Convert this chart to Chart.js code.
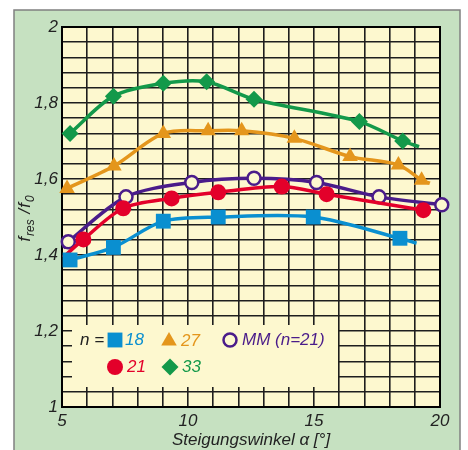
<!DOCTYPE html>
<html>
<head>
<meta charset="utf-8">
<script src="https://cdn.jsdelivr.net/npm/chart.js@4.4.1/dist/chart.umd.min.js"></script>
<style>
  html, body { margin: 0; padding: 0; background: #fff; }
</style>
</head>
<body>
<canvas id="grafico" width="468" height="450"></canvas>
<script>
// Messwerte: Steigungswinkel (Grad) -> f_res/f0
const winkel18 = [5.32, 7.04, 9.02, 11.2, 14.97, 18.41];
const wert18 = [1.387, 1.42, 1.489, 1.50, 1.50, 1.444];
const winkel21 = [5.85, 7.43, 9.35, 11.2, 13.72, 15.5, 19.34];
const wert21 = [1.441, 1.523, 1.549, 1.565, 1.58, 1.56, 1.518];
const winkel27 = [5.2, 7.06, 9.02, 10.8, 12.13, 14.22, 16.43, 18.35, 19.27];
const wert27 = [1.575, 1.634, 1.72, 1.727, 1.727, 1.707, 1.659, 1.637, 1.597];
const winkel33 = [5.32, 7.04, 9.02, 10.74, 12.62, 16.8, 18.52];
const wert33 = [1.72, 1.818, 1.852, 1.856, 1.81, 1.751, 1.70];
const winkelMM = [5.25, 7.54, 10.15, 12.62, 15.1, 17.58, 20.07];
const wertMM = [1.435, 1.553, 1.591, 1.602, 1.591, 1.553, 1.532];

// Anfang / Ende der Ausgleichskurven (ohne Messpunkt)
const start21 = [5.05, 1.394];
const startMM = [5.05, 1.418];
const ende18 = [19.07, 1.431];
const ende27 = [19.6, 1.589];
const ende33 = [19.17, 1.685];

// Achsen
const xMarken = [5, 10, 15, 20];
const yMarken = [1, 1.2, 1.4, 1.6, 1.8, 2];

const schrift = 'Liberation Sans, Arial, sans-serif';
const gelb = '#fdf8cf';

function punkte(xs, ys, start, ende) {
  const pts = xs.map((x, i) => ({ x: x, y: ys[i], m: true }));
  if (start) pts.unshift({ x: start[0], y: start[1], m: false });
  if (ende) pts.push({ x: ende[0], y: ende[1], m: false });
  return pts;
}

function serie(label, data, farbe, stil, radius, fuellung) {
  return {
    label: label,
    data: data,
    borderColor: farbe,
    backgroundColor: farbe,
    borderWidth: 3.5,
    tension: 0.3,
    clip: false,
    pointStyle: stil,
    pointRadius: ctx => (ctx.raw && ctx.raw.m ? radius : 0),
    pointBackgroundColor: fuellung || farbe,
    pointBorderColor: farbe,
    pointBorderWidth: fuellung ? 2.5 : 0
  };
}

const datasets = [
  serie('18', punkte(winkel18, wert18, null, ende18), '#0a8fd0', 'rect', 10.5),
  serie('21', punkte(winkel21, wert21, start21, null), '#e3002a', 'circle', 8),
  serie('MM (n=21)', punkte(winkelMM, wertMM, startMM, null), '#4a1c8a', 'circle', 6.5, gelb),
  serie('27', punkte(winkel27, wert27, null, ende27), '#e4961c', 'triangle', 9),
  serie('33', punkte(winkel33, wert33, null, ende33), '#13994a', 'rectRot', 8.5)
];

function istMarke(liste, v) {
  return liste.some(m => Math.abs(m - v) < 1e-6);
}

// Hintergrund, Rahmen, Legende und y-Titel
const zeichnen = {
  id: 'zeichnen',
  beforeDraw(chart) {
    const ctx = chart.ctx;
    const a = chart.chartArea;
    ctx.save();
    ctx.fillStyle = '#fff';
    ctx.fillRect(0, 0, chart.width, chart.height);
    ctx.fillStyle = '#c6e1c1';
    ctx.fillRect(14, 10, 446, 450);
    ctx.strokeStyle = '#808080';
    ctx.lineWidth = 1.5;
    ctx.strokeRect(14, 10, 446, 452);
    ctx.fillStyle = gelb;
    ctx.fillRect(a.left, a.top, a.right - a.left, a.bottom - a.top);
    ctx.restore();
  },
  beforeDatasetsDraw(chart) {
    const ctx = chart.ctx;
    const a = chart.chartArea;
    ctx.save();
    ctx.strokeStyle = '#000';
    ctx.lineWidth = 2;
    ctx.strokeRect(a.left, a.top, a.right - a.left, a.bottom - a.top);

    // Legende
    ctx.fillStyle = gelb;
    ctx.fillRect(72, 325, 266, 62);
    ctx.font = 'italic 17px ' + schrift;
    ctx.textBaseline = 'middle';
    ctx.fillStyle = '#222';
    ctx.fillText('n =', 80, 340);
    const pos = [
      [0, 115, 340, 125],
      [1, 115, 367, 127],
      [2, 230, 340, 242],
      [3, 169, 341, 181],
      [4, 170, 367, 182]
    ];
    pos.forEach(p => {
      const ds = chart.data.datasets[p[0]];
      ctx.fillStyle = ds.pointBackgroundColor;
      ctx.strokeStyle = ds.borderColor;
      ctx.lineWidth = ds.pointBorderWidth;
      const r = ds.pointRadius({ raw: { m: true } });
      Chart.helpers.drawPoint(ctx, { pointStyle: ds.pointStyle, radius: r, borderWidth: ds.pointBorderWidth, rotation: 0 }, p[1], p[2]);
      ctx.fillStyle = ds.borderColor;
      ctx.fillText(ds.label, p[3], p[2]);
    });

    // y-Achsentitel f_res / f_0
    ctx.translate(30, 218);
    ctx.rotate(-Math.PI / 2);
    ctx.textBaseline = 'alphabetic';
    ctx.fillStyle = '#222';
    const teile = [['f', 17, 0], ['res', 12, 4], [' /', 17, 0], ['f', 17, 0], ['0', 12, 4]];
    let breite = 0;
    teile.forEach(t => { ctx.font = 'italic ' + t[1] + 'px ' + schrift; breite += ctx.measureText(t[0]).width + 1; });
    let x = -breite / 2;
    teile.forEach(t => {
      ctx.font = 'italic ' + t[1] + 'px ' + schrift;
      ctx.fillText(t[0], x, t[2]);
      x += ctx.measureText(t[0]).width + 1;
    });
    ctx.restore();
  }
};

new Chart(document.getElementById('grafico'), {
  type: 'line',
  data: { datasets: datasets },
  plugins: [zeichnen],
  options: {
    responsive: false,
    animation: false,
    layout: { padding: { left: 14, top: 27, right: 28, bottom: 0 } },
    plugins: { legend: { display: false }, tooltip: { enabled: false } },
    scales: {
      x: {
        type: 'linear',
        min: 5,
        max: 20,
        afterFit: s => { s.height = 43; },
        ticks: {
          stepSize: 1,
          autoSkip: false,
          maxRotation: 0,
          padding: 4,
          color: '#222',
          font: { family: schrift, size: 17, style: 'italic' },
          callback: v => (istMarke(xMarken, v) ? String(v) : '')
        },
        grid: { color: '#1e1e1e', lineWidth: 1.6, drawTicks: false },
        border: { color: '#000', width: 2 },
        title: {
          display: true,
          text: 'Steigungswinkel α [°]',
          color: '#222',
          padding: { top: 0, bottom: 0 },
          font: { family: schrift, size: 17, style: 'italic' }
        }
      },
      y: {
        min: 1,
        max: 2,
        afterFit: s => { s.width = 48; },
        ticks: {
          stepSize: 0.04,
          autoSkip: false,
          padding: 4,
          color: '#222',
          font: { family: schrift, size: 17, style: 'italic' },
          callback: v => (istMarke(yMarken, v) ? (Number.isInteger(v) ? String(v) : v.toFixed(1).replace('.', ',')) : '')
        },
        grid: { color: '#1e1e1e', lineWidth: 1.6, drawTicks: false },
        border: { color: '#000', width: 2 }
      }
    }
  }
});
</script>
</body>
</html>
